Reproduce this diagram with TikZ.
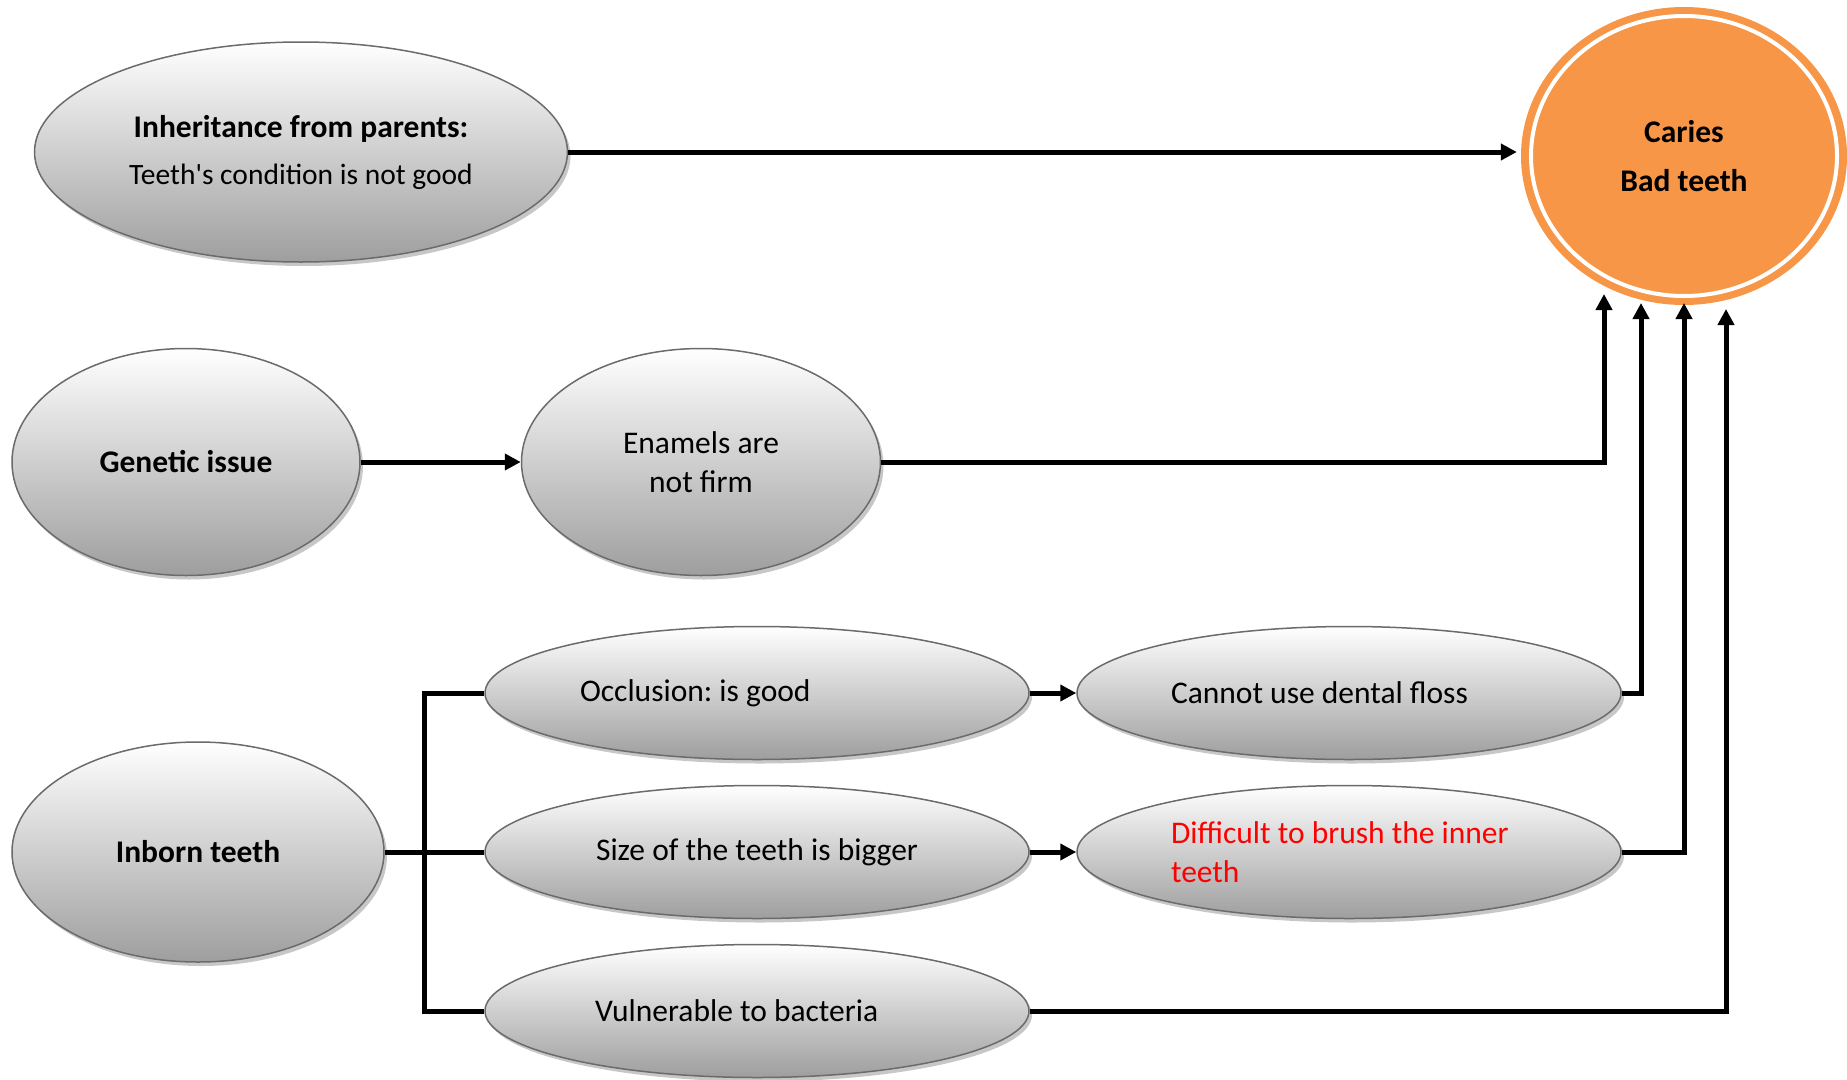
\documentclass[tikz,border=0pt]{standalone}
\usepackage{fontspec}
\setmainfont{Carlito}
\usetikzlibrary{arrows.meta,shadows,shapes.geometric}
\definecolor{cariesorange}{HTML}{F79646}
\definecolor{rimgray}{HTML}{6B6B6B}

\begin{document}
\begin{tikzpicture}[x=1pt,y=-1pt,
  bubble/.style={ellipse, draw=rimgray, line width=1.5pt, inner sep=0pt,
    top color=white, bottom color=black!38, align=center,
    font=\fontsize{31.5}{39}\selectfont\frenchspacing,
    drop shadow={shadow xshift=3pt, shadow yshift=-4pt, fill=black!22, opacity=1}},
  longbubble/.style={bubble, minimum width=544pt, minimum height=133pt},
  link/.style={line width=5pt},
  arr/.style={link, -{Triangle[length=16pt,width=16pt]}}]
\useasboundingbox (0,0) rectangle (1847,1079);

% causes
\node[bubble, minimum width=533pt, minimum height=220pt] (inherit) at (301,152)
  {\textbf{Inheritance from parents:}\\[8pt]{\fontsize{29.5}{39}\selectfont Teeth\textquotesingle s condition is not good}};
\node[bubble, minimum width=348pt, minimum height=227pt] (genetic) at (186,462) {\textbf{Genetic issue}};
\node[bubble, minimum width=359pt, minimum height=227pt] (enamel) at (701,462) {Enamels are\\not firm};
\node[bubble, minimum width=372pt, minimum height=220pt] (inborn) at (198,852) {\textbf{Inborn teeth}};

\node[longbubble] (occl) at (757,693) {\makebox[354pt][l]{Occlusion: is good}};
\node[longbubble] (size) at (757,852) {Size of the teeth is bigger};
\node[longbubble] (vuln) at (757,1011) {\makebox[324pt][l]{Vulnerable to bacteria}};
\node[longbubble] (floss) at (1349,693) {\makebox[356pt][l]{Cannot use dental floss}};
\node[longbubble, text=red] (brush) at (1349,852)
  {\makebox[356pt][l]{Difficult to brush the inner}\\\makebox[356pt][l]{teeth}};

% result
\node[ellipse, fill=cariesorange, inner sep=0pt, minimum width=326pt, minimum height=298pt,
  align=center, font=\fontsize{31.5}{39}\selectfont\bfseries] (caries) at (1684,156)
  {Caries\\[10pt]Bad teeth};
\draw[white, line width=4pt] (caries.center) ellipse [x radius=153, y radius=140];

\coordinate (bus) at (424,0);
\coordinate (in1) at (1604,294);
\coordinate (in2) at (1641,303);
\coordinate (in3) at (1684,303);
\coordinate (in4) at (1726,309);

\draw[arr, shorten >=4pt] (inherit.east) -- (inherit.east -| caries.west);
\draw[arr] (genetic) -- (enamel);
\draw[arr] (enamel.east) -| (in1);

\draw[link] (inborn.east) -- (size.west);
\draw[link] (occl.west) -- (occl.west -| bus) -- (vuln.west -| bus) -- (vuln.west);
\draw[arr] (occl) -- (floss);
\draw[arr] (size) -- (brush);

\draw[arr] (floss.east) -| (in2);
\draw[arr] (brush.east) -| (in3);
\draw[arr] (vuln.east) -| (in4);
\end{tikzpicture}
\end{document}
